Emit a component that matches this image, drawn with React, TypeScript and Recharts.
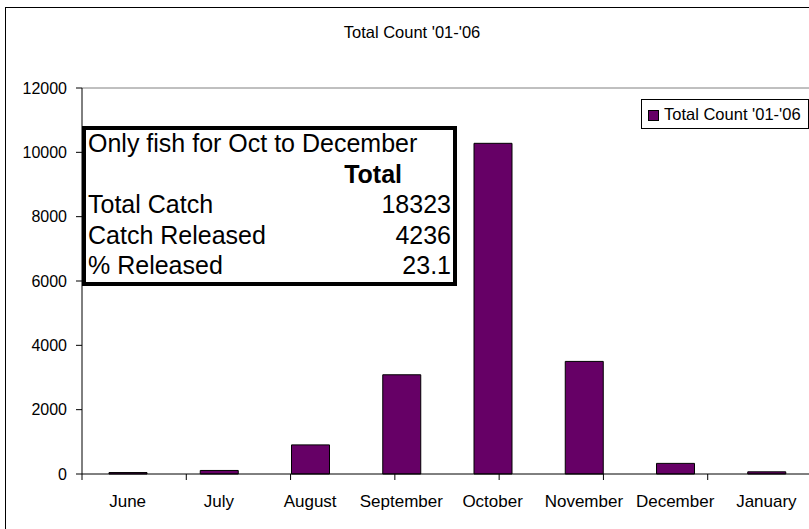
import { Bar, BarChart, Legend, ReferenceLine, XAxis, YAxis } from 'recharts'

const months = ['June', 'July', 'August', 'September', 'October', 'November', 'December', 'January']
const totalCount = [45, 110, 905, 3085, 10280, 3500, 330, 68]
const yTicks = [0, 2000, 4000, 6000, 8000, 10000, 12000]
const boundaryTicks = [0, 1, 2, 3, 4, 5, 6, 7, 8]

const seriesName = "Total Count '01-'06"
const summaryTitle = 'Only fish for Oct to December'
const summaryRows: [string, string][] = [
  ['Total Catch', '18323'],
  ['Catch Released', '4236'],
  ['% Released', '23.1'],
]

const rows = months.map((month, i) => ({ month, count: totalCount[i] }))

const FONT = '"Liberation Sans", Arial, sans-serif'
const PURPLE = '#660066'

function LegendBox({ payload }: { payload?: { value: string; color?: string }[] }) {
  const item = payload?.[0]
  if (!item) return null
  return (
    <div
      style={{
        boxSizing: 'border-box',
        height: 30,
        border: '1px solid #000',
        background: '#fff',
        display: 'flex',
        alignItems: 'center',
        fontFamily: FONT,
        fontSize: 16.5,
        color: '#000',
        whiteSpace: 'nowrap',
      }}
    >
      <span
        style={{
          display: 'inline-block',
          width: 9,
          height: 9,
          marginLeft: 6,
          marginRight: 5,
          marginTop: 3,
          background: PURPLE,
          border: '1px solid #000',
        }}
      />
      {item.value}
    </div>
  )
}

export default function App() {
  return (
    <div
      style={{
        position: 'absolute',
        left: 0,
        top: 0,
        width: 809,
        height: 529,
        overflow: 'hidden',
        background: '#fff',
        fontFamily: FONT,
      }}
    >
      {/* chart area frame, runs off the right and bottom edges */}
      <div
        style={{
          position: 'absolute',
          left: 5,
          top: 7,
          width: 900,
          height: 600,
          border: '1px solid #000',
        }}
      />
      <div
        style={{
          position: 'absolute',
          left: 5,
          top: 22,
          width: 814,
          textAlign: 'center',
          fontSize: 16.5,
          lineHeight: '20px',
          color: '#000',
        }}
      >
        {seriesName}
      </div>

      <div style={{ position: 'absolute', left: 0, top: 0 }}>
        <BarChart
          width={812}
          height={529}
          data={rows}
          margin={{ top: 88, right: 0, bottom: 25, left: 22 }}
        >
          {/* boundary tick marks between categories (Excel style) */}
          <XAxis
            type="number"
            domain={[0, 8]}
            ticks={boundaryTicks}
            height={1}
            tickSize={6}
            tickFormatter={() => ''}
            axisLine={false}
            tickLine={{ stroke: '#000' }}
          />
          <XAxis
            xAxisId="cat"
            dataKey="month"
            height={29}
            tickSize={0}
            tickMargin={20}
            tickLine={false}
            axisLine={false}
            interval={0}
            tick={{ fill: '#000', fontSize: 17, fontFamily: FONT }}
          />
          <YAxis
            width={60}
            domain={[0, 12000]}
            ticks={yTicks}
            tickSize={6}
            tickMargin={9}
            axisLine={{ stroke: '#000' }}
            tickLine={{ stroke: '#000' }}
            tick={{ fill: '#000', fontSize: 16, fontFamily: FONT }}
          />
          <ReferenceLine y={12000} stroke="#808080" />
          <ReferenceLine y={0} stroke="#000" />
          <Legend
            layout="horizontal"
            verticalAlign="middle"
            content={<LegendBox />}
            wrapperStyle={{ left: 641, top: 99, width: 168, height: 30 }}
          />
          <Bar
            xAxisId="cat"
            dataKey="count"
            name={seriesName}
            fill={PURPLE}
            stroke="#000"
            strokeWidth={1}
            barSize={38}
            isAnimationActive={false}
          />
        </BarChart>
      </div>

      {/* summary box drawn on top of the plot */}
      <div
        style={{
          position: 'absolute',
          left: 82,
          top: 126,
          width: 375,
          height: 160,
          boxSizing: 'border-box',
          border: '4px solid #000',
          background: '#fff',
          fontSize: 25,
          lineHeight: '30.5px',
          color: '#000',
          whiteSpace: 'nowrap',
        }}
      >
        <div style={{ position: 'relative', top: -2, paddingLeft: 2, paddingRight: 2 }}>
          <div>{summaryTitle}</div>
          <div style={{ textAlign: 'right', fontWeight: 'bold', paddingRight: 49 }}>Total</div>
          {summaryRows.map(([label, value]) => (
            <div key={label} style={{ display: 'flex', justifyContent: 'space-between' }}>
              <span>{label}</span>
              <span>{value}</span>
            </div>
          ))}
        </div>
      </div>
    </div>
  )
}
